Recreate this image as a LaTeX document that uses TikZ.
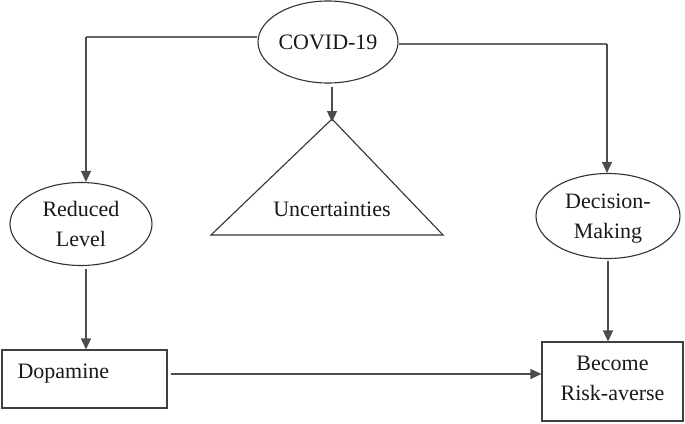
\documentclass[tikz,border=0pt]{standalone}
\usepackage{fontspec}
\setmainfont{Liberation Serif}
\usetikzlibrary{arrows.meta,shapes.geometric}
\begin{document}
\begin{tikzpicture}[x=1pt,y=-1pt,
  every node/.style={font=\fontsize{22}{30}\selectfont, text=black!90},
  oval/.style={draw=black!80, line width=1.1pt, ellipse, inner sep=0pt, align=center},
  boxnode/.style={draw=black!75, line width=1.1pt, rectangle, inner sep=0pt},
  link/.style={draw=black!60, line width=1.3pt},
  arrowlink/.style={draw=black!70, line width=1.3pt, -{Triangle[length=11pt,width=10pt]}}]
\useasboundingbox (0,0) rectangle (685,423);
\node[oval, minimum width=122pt, minimum height=82pt] (covid) at (328,42) {COVID-19};
\node[oval, minimum width=142pt, minimum height=83pt] (rl) at (81,224) {Reduced\\Level};
\node[oval, minimum width=144pt, minimum height=85pt] (dm) at (608,216) {};
\node[align=center] (dmtext) at (608,219) {Decision-\\Making};
\node[boxnode, minimum width=165pt, minimum height=58pt] (dop) at (84.5,379) {};
\node[anchor=west] (doptext) at (14,374) {Dopamine};
\node[boxnode, minimum width=141pt, minimum height=79pt] (risk) at (612.5,381.5) {};
\node[align=center] (risktext) at (612.5,378) {Become\\Risk-averse};
\coordinate (apex) at (332,119);
\coordinate (bl) at (211,235);
\coordinate (br) at (443,235);
\draw[draw=black!80, line width=1.1pt, line join=miter] (apex) -- (bl) -- (br) -- cycle;
\node (unc) at (332,209) {Uncertainties};
\coordinate (lc) at (86,37);
\coordinate (rc) at (607,44);
\draw[link] (covid.west |- lc) -- (lc);
\draw[arrowlink] (lc) -- (lc |- rl.north);
\draw[link] (covid.east |- rc) -- (rc);
\draw[arrowlink] (rc) -- (rc |- dm.north);
\draw[arrowlink] ([yshift=-3pt]covid.south -| apex) -- ([yshift=-3pt]apex);
\draw[arrowlink] ([yshift=-3pt]rl.south -| lc) -- (lc |- dop.north);
\draw[arrowlink] ([yshift=-2pt]dm.south) -- (dm.south |- risk.north);
\draw[arrowlink] ([xshift=3pt]dop.east |- doptext) -- (risk.west |- doptext);
\end{tikzpicture}
\end{document}
